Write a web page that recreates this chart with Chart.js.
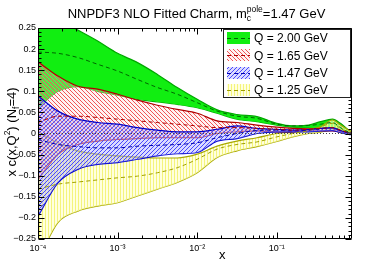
<!DOCTYPE html>
<html>
<head>
<meta charset="utf-8">
<script src="https://cdn.jsdelivr.net/npm/chart.js@4.4.1/dist/chart.umd.min.js"></script>
<style>
    html, body { margin: 0; padding: 0; background: #fff; }
    #pdf-chart { display: block; }
</style>
</head>
<body>
<canvas id="pdf-chart" width="392" height="266"></canvas>
<script>
// x grid (log spaced)
const xValues = [1e-4, 1.78e-4, 3.16e-4, 5.62e-4, 1e-3, 1.78e-3, 3.16e-3, 5.62e-3, 0.01, 0.0178,
                 0.0316, 0.0562, 0.1, 0.158, 0.251, 0.355, 0.5, 0.63, 0.8, 0.88];

// Q = 2.00 GeV
const q200Upper  = [0.30, 0.27, 0.245, 0.219, 0.19, 0.168, 0.14, 0.109, 0.081, 0.056, 0.045, 0.04, 0.024, 0.018, 0.02, 0.028, 0.034, 0.024, 0.008, 0.003];
const q200Center = [0.193, 0.19, 0.18, 0.164, 0.148, 0.128, 0.109, 0.093, 0.073, 0.053, 0.041, 0.036, 0.022, 0.018, 0.019, 0.022, 0.026, 0.014, 0.003, 0.0];
const q200Lower  = [0.061, 0.10, 0.111, 0.10, 0.091, 0.081, 0.075, 0.069, 0.061, 0.048, 0.034, 0.028, 0.02, 0.015, 0.014, 0.012, 0.01, 0.004, -0.001, -0.002];

// Q = 1.65 GeV
const q165Upper  = [0.17, 0.136, 0.112, 0.105, 0.093, 0.079, 0.067, 0.057, 0.048, 0.03, 0.026, 0.02, 0.015, 0.012, 0.011, 0.012, 0.012, 0.006, 0.002, 0.0];
const q165Center = [0.026, 0.041, 0.041, 0.038, 0.034, 0.03, 0.026, 0.022, 0.018, 0.014, 0.014, 0.012, 0.01, 0.008, 0.01, 0.012, 0.014, 0.008, 0.002, 0.0];
const q165Lower  = [-0.109, -0.049, -0.026, -0.018, -0.014, -0.012, -0.01, -0.01, -0.01, 0.0, 0.004, 0.006, 0.004, 0.004, 0.006, 0.006, 0.006, 0.003, 0.0, -0.002];

// Q = 1.47 GeV
const q147Upper  = [0.089, 0.053, 0.034, 0.026, 0.022, 0.014, 0.008, 0.004, 0.004, 0.01, 0.018, 0.012, 0.01, 0.008, 0.009, 0.012, 0.014, 0.007, 0.002, 0.0];
const q147Center = [-0.014, -0.026, -0.031, -0.034, -0.034, -0.03, -0.028, -0.026, -0.022, -0.01, 0.0, 0.007, 0.008, 0.006, 0.008, 0.011, 0.014, 0.007, 0.001, 0.0];
const q147Lower  = [-0.196, -0.117, -0.085, -0.073, -0.069, -0.061, -0.053, -0.048, -0.045, -0.018, -0.012, 0.0, 0.004, 0.004, 0.004, 0.006, 0.007, 0.002, -0.002, -0.003];

// Q = 1.25 GeV
const q125Upper  = [0.004, -0.022, -0.041, -0.049, -0.053, -0.056, -0.058, -0.058, -0.049, -0.03, -0.018, -0.01, 0.0, 0.004, 0.01, 0.016, 0.032, 0.02, 0.008, 0.003];
const q125Center = [-0.132, -0.12, -0.115, -0.11, -0.105, -0.101, -0.093, -0.081, -0.061, -0.037, -0.026, -0.02, -0.008, 0.0, 0.007, 0.016, 0.024, 0.012, 0.002, 0.0];
const q125Lower  = [-0.30, -0.211, -0.184, -0.172, -0.164, -0.148, -0.132, -0.116, -0.093, -0.057, -0.041, -0.031, -0.019, -0.008, 0.0, 0.003, 0.008, 0.002, -0.001, -0.002];

const legendLabels = ['Q = 2.00 GeV', 'Q = 1.65 GeV', 'Q = 1.47 GeV', 'Q = 1.25 GeV'];
const xDecades = [-4, -3, -2, -1];
const superDigits = {'-': '\u207B', '1': '\u00B9', '2': '\u00B2', '3': '\u00B3', '4': '\u2074'};

const FONT = "'Liberation Sans', Arial, sans-serif";

// small hatch tiles
function hatch(color, kind, pale) {
    let c = document.createElement('canvas');
    let s = kind === 'vert' ? 3 : 4;
    c.width = s; c.height = s;
    let g = c.getContext('2d');
    if (pale) {
        g.fillStyle = pale;
        g.fillRect(0, 0, s, s);
    }
    g.fillStyle = color;
    for (let i = 0; i < s; i++) {
        if (kind === 'back') g.fillRect(i, i, 1, 1);
        else if (kind === 'fwd') g.fillRect(s - 1 - i, i, 1, 1);
        else g.fillRect(0, i, 1, 1);
    }
    return g.createPattern(c, 'repeat');
}

const pts = arr => arr.map((v, i) => ({x: xValues[i], y: v}));

function band(up, mid, lo, edge, midColor, fillStyle, order) {
    let common = {pointRadius: 0, borderWidth: 1.2, cubicInterpolationMode: 'monotone'};
    return [
        {...common, data: pts(up), borderColor: edge, backgroundColor: fillStyle, fill: '+1', order: order},
        {...common, data: pts(lo), borderColor: edge, fill: false, order: order},
        {...common, data: pts(mid), borderColor: midColor, borderWidth: 1, borderDash: [4, 3], fill: false, order: 0}
    ];
}

const bands = [
    {edge: '#00a800', mid: '#006600', fill: '#11ee11'},
    {edge: '#b00000', mid: '#b00000', fill: hatch('#f05555', 'back', 'rgba(255,215,215,0.3)')},
    {edge: '#0000c8', mid: '#0000b0', fill: hatch('#4a4aff', 'fwd', 'rgba(175,175,255,0.45)')},
    {edge: '#a8a800', mid: '#a0a000', fill: hatch('#f4f47c', 'vert', 'rgba(255,255,200,0.6)')}
];

let datasets = [
    ...band(q200Upper, q200Center, q200Lower, bands[0].edge, bands[0].mid, bands[0].fill, 5),
    ...band(q165Upper, q165Center, q165Lower, bands[1].edge, bands[1].mid, bands[1].fill, 3),
    ...band(q147Upper, q147Center, q147Lower, bands[2].edge, bands[2].mid, bands[2].fill, 2),
    ...band(q125Upper, q125Center, q125Lower, bands[3].edge, bands[3].mid, bands[3].fill, 4),
    {data: [{x: xValues[0], y: 0}, {x: xValues[xValues.length - 1], y: 0}], borderColor: '#444',
     borderWidth: 1, borderDash: [1, 2], pointRadius: 0, fill: false, order: -1}
];

function supText(str) {
    return str.split('').map(ch => superDigits[ch] || ch).join('');
}

// draw text pieces: [text, size, dy, noAdvance]
function drawPieces(ctx, pieces, x, y) {
    let cx = x;
    pieces.forEach(p => {
        ctx.font = p[1] + 'px ' + FONT;
        ctx.fillText(p[0], cx, y + p[2]);
        if (!p[3]) cx += ctx.measureText(p[0]).width;
    });
}

function piecesWidth(ctx, pieces) {
    let w = 0;
    pieces.forEach(p => {
        ctx.font = p[1] + 'px ' + FONT;
        if (!p[3]) w += ctx.measureText(p[0]).width;
    });
    return w;
}

const decorations = {
    id: 'decorations',
    afterDraw(chart) {
        let {ctx, chartArea: a, scales: {x, y}} = chart;
        ctx.save();
        ctx.strokeStyle = '#000';
        ctx.lineWidth = 1;
        let L = Math.round(a.left) + 0.5, R = Math.round(a.right) - 0.5;
        let T = Math.round(a.top) + 0.5, B = Math.round(a.bottom) - 0.5;

        // frame + inward ticks
        ctx.beginPath();
        ctx.rect(L, T, R - L, B - T);
        xDecades.forEach(e => {
            for (let m = 1; m <= 9; m++) {
                let v = m * Math.pow(10, e);
                if (v < x.min || v > x.max) continue;
                let px = Math.round(x.getPixelForValue(v)) + 0.5;
                let len = m === 1 ? 6 : 3;
                ctx.moveTo(px, B); ctx.lineTo(px, B - len);
                ctx.moveTo(px, T); ctx.lineTo(px, T + len);
            }
        });
        for (let k = -25; k <= 25; k++) {
            let py = Math.round(y.getPixelForValue(k / 100)) + 0.5;
            let len = k % 5 === 0 ? 6 : 3;
            ctx.moveTo(L, py); ctx.lineTo(L + len, py);
            ctx.moveTo(R, py); ctx.lineTo(R - len, py);
        }
        ctx.stroke();

        // title
        ctx.fillStyle = '#000';
        ctx.textBaseline = 'alphabetic';
        ctx.textAlign = 'left';
        let title = [['NNPDF3 NLO Fitted Charm, m', 13, 0], ['c', 8.5, 3, true], ['pole', 8.5, -6], ['=1.47 GeV', 13, 0]];
        let tw = piecesWidth(ctx, title);
        drawPieces(ctx, title, 196.5 - tw / 2, 18);

        // x axis title
        ctx.font = '13px ' + FONT;
        ctx.fillText('x', 219, 259);

        // y axis title
        ctx.save();
        ctx.translate(16, 132);
        ctx.rotate(-Math.PI / 2);
        let yt = [['x c(x,Q', 13, 0], ['2', 8.5, -6], [') (N', 13, 0], ['f', 8.5, 3], ['=4)', 13, 0]];
        let yw = piecesWidth(ctx, yt);
        drawPieces(ctx, yt, -yw / 2, 0);
        ctx.restore();

        // legend
        ctx.fillStyle = '#fff';
        ctx.fillRect(223, 29, 127, 68);
        ctx.strokeStyle = '#222';
        ctx.strokeRect(223.5, 29.5, 127, 68);
        ctx.textBaseline = 'middle';
        legendLabels.forEach((lab, i) => {
            let cy = 38 + i * 17.3;
            ctx.fillStyle = bands[i].fill;
            ctx.fillRect(227, Math.round(cy - 6), 23, 12);
            ctx.beginPath();
            ctx.setLineDash([4, 3]);
            ctx.strokeStyle = bands[i].mid;
            ctx.lineWidth = 1;
            ctx.moveTo(227, Math.round(cy) + 0.5);
            ctx.lineTo(250, Math.round(cy) + 0.5);
            ctx.stroke();
            ctx.setLineDash([]);
            ctx.fillStyle = '#000';
            ctx.font = '12px ' + FONT;
            ctx.fillText(lab, 254, cy + 1);
        });
        ctx.restore();
    }
};

new Chart(document.getElementById('pdf-chart'), {
    type: 'line',
    data: {datasets: datasets},
    options: {
        responsive: false,
        animation: false,
        devicePixelRatio: 1,
        events: [],
        layout: {padding: {top: 28, right: 40, left: 0, bottom: 0}},
        plugins: {legend: {display: false}, tooltip: {enabled: false}, title: {display: false}},
        scales: {
            x: {
                type: 'logarithmic',
                min: 1e-4,
                max: 0.88,
                grid: {display: false, drawTicks: false},
                border: {display: false},
                afterFit: s => { s.height = 27; },
                ticks: {
                    autoSkip: false,
                    maxRotation: 0,
                    padding: 4,
                    color: '#000',
                    font: {family: FONT, size: 9},
                    callback: v => {
                        let l = Math.log10(v);
                        if (Math.abs(l - Math.round(l)) > 1e-6) return '';
                        return '10' + supText(String(Math.round(l)));
                    }
                }
            },
            y: {
                min: -0.25,
                max: 0.25,
                grid: {display: false, drawTicks: false},
                border: {display: false},
                afterFit: s => { s.width = 38; },
                ticks: {
                    stepSize: 0.05,
                    padding: 2,
                    color: '#000',
                    font: {family: FONT, size: 9},
                    callback: v => {
                        let r = Math.round(v * 100) / 100;
                        return String(r).replace('-', '\u2212');
                    }
                }
            }
        }
    },
    plugins: [decorations]
});
</script>
</body>
</html>
